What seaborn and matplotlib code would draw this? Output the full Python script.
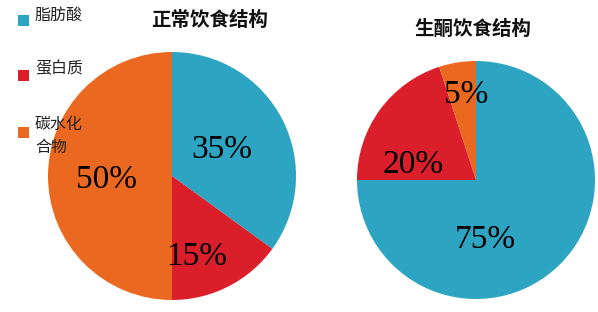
import matplotlib
matplotlib.use("Agg")
import matplotlib.pyplot as plt
import seaborn as sns
import numpy as np
from matplotlib.patches import Rectangle

sns.set_theme(style="white")
plt.rcParams['font.family'] = ['Noto Sans CJK SC', 'DejaVu Sans']

categories = ["脂肪酸", "蛋白质", "碳水化\n合物"]
normal_values = [35, 15, 50]
keto_values = [75, 20, 5]
titles = ["正常饮食结构", "生酮饮食结构"]

colors = sns.color_palette(["#2DA4C1", "#DB1F2A", "#EA681F"])

W, H = 598, 312
fig = plt.figure(figsize=(W / 100, H / 100), dpi=100)
fig.patch.set_facecolor("white")

def px_axes(cx, cy, r):
    return fig.add_axes([(cx - r) / W, (H - cy - r) / H, 2 * r / W, 2 * r / H])

# label positions (polar: angle deg, fraction of radius) per pie
label_pos = [
    [(27.5, 0.45), (-72.8, 0.68), (183.5, 0.53)],
    [(-81.5, 0.51), (166, 0.546), (96.4, 0.72)],
]

specs = [(172, 176, 124, normal_values), (476, 180, 119, keto_values)]
for i, (cx, cy, r, vals) in enumerate(specs):
    ax = px_axes(cx, cy, r)
    wedges, texts, autotexts = ax.pie(
        vals, colors=colors, startangle=90, counterclock=False,
        autopct=lambda p: f"{p:.0f}%", pctdistance=0.6,
        wedgeprops=dict(linewidth=0),
        textprops=dict(family="Liberation Serif", fontsize=24, color="black"))
    for t, (ang, d) in zip(autotexts, label_pos[i]):
        a = np.deg2rad(ang)
        t.set_position((d * np.cos(a), d * np.sin(a)))
        t.set_ha("center"); t.set_va("center")
    ax.set_xlim(-1, 1)
    ax.set_ylim(-1, 1)
    ax.set_aspect("equal")
    ax.axis("off")

fig.text(210 / W, 1 - 20 / H, titles[0], ha="center", va="center",
         fontsize=14, fontweight="bold", color="#111111")
fig.text(473 / W, 1 - 29.5 / H, titles[1], ha="center", va="center",
         fontsize=14, fontweight="bold", color="#111111")

# legend (manual, pixel placement)
sq_y = [20, 75, 132]
txt_y = [15, 69, 136]
for c, lab, sy, ty in zip(colors, categories, sq_y, txt_y):
    fig.add_artist(Rectangle((18 / W, 1 - (sy + 5.5) / H), 11 / W, 11 / H,
                             transform=fig.transFigure, facecolor=c,
                             edgecolor="none"))
    fig.text(35 / W, 1 - ty / H, lab, ha="left", va="center", fontsize=11.5,
             linespacing=1.5, multialignment="left", color="#222222")

fig.savefig("out.png", dpi=100)
